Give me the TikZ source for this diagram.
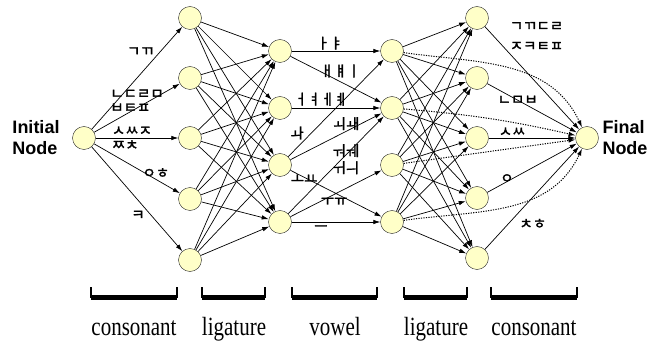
\documentclass[tikz,border=0pt]{standalone}
\usepackage{graphicx}
\usepackage{fontspec}
\setmainfont{Liberation Serif}
\newfontfamily\labelfont{Liberation Sans}
\newfontfamily\kr{Noto Sans CJK KR}[FakeBold=1.8]
\usetikzlibrary{arrows.meta, positioning}
\definecolor{nodefill}{RGB}{255,255,200}
\tikzset{%
  state/.style={draw=black!85, circle, minimum size=23pt, inner sep=0pt, fill=nodefill},
  link/.style={line width=0.7pt},
  move/.style={link, -{Latex[length=7pt,width=4.5pt]}},
  hint/.style={move, line width=1pt, dash pattern=on 1.2pt off 1.3pt},
  jamo/.style={font=\kr\fontsize{14.5}{14}\selectfont, inner sep=1pt},
  term/.style={font=\labelfont\bfseries\fontsize{18}{21}\selectfont, align=left},
  part/.style={font=\fontsize{21}{24}\selectfont, inner sep=0pt},
  bracket/.style={line width=1.5pt},
  bar/.style={line width=4.5pt}
}

\begin{document}
\begin{tikzpicture}[x=1pt, y=-1pt, on grid]
  \useasboundingbox (0,0) rectangle (651,342);

  \node[state] (init) at (84,138) {};
  \node[term] (initlabel) [left=48pt of init] {Initial\\Node};

  \node[state] (c13) [right=106pt of init] {};
  \node[state] (c12) [above=60pt of c13] {};
  \node[state] (c11) [above=60pt of c12] {};
  \node[state] (c14) [below=61pt of c13] {};
  \node[state] (c15) [below=61pt of c14] {};

  \node[state] (c22) [above right=30pt and 90pt of c13] {};
  \node[state] (c21) [above=57pt of c22] {};
  \node[state] (c23) [below=57pt of c22] {};
  \node[state] (c24) [below=57pt of c23] {};

  \node[state] (c31) [right=112pt of c21] {};
  \node[state] (c32) [right=112pt of c22] {};
  \node[state] (c33) [right=112pt of c23] {};
  \node[state] (c34) [right=112pt of c24] {};

  \node[state] (final) [right=503pt of init] {};
  \node[term] (finallabel) [right=38pt of final] {Final\\Node};

  \node[state] (c43) [left=110pt of final] {};
  \node[state] (c42) [above=60pt of c43] {};
  \node[state] (c41) [above=60pt of c42] {};
  \node[state] (c44) [below=60pt of c43] {};
  \node[state] (c45) [below=60pt of c44] {};

  % consonant
  \draw[move] (init) -- node[jamo, pos=0.7, above left] {ㄱㄲ} (c11);
  \draw[move] (init) -- node[jamo, pos=0.5, above=-6pt, align=left] {ㄴㄷㄹㅁ\\[0pt]ㅂㅌㅍ} (c12);
  \draw[move] (init) -- node[jamo, pos=0.18, anchor=south west, yshift=1pt] {ㅅㅆㅈ} node[jamo, pos=0.18, anchor=north west, yshift=-1pt] {ㅉㅊ} (c13);
  \draw[move] (init) -- node[jamo, pos=0.72, above] {ㅇㅎ} (c14);
  \draw[move] (init) -- node[jamo, pos=0.6, below left] {ㅋ} (c15);

  % ligature
  \draw (c11) edge[move] (c21) edge[move] (c22) edge[move] (c23) edge[move] (c24);
  \draw (c12) edge[move] (c21) edge[move] (c22) edge[move] (c23) edge[move] (c24);
  \draw (c13) edge[move] (c21) edge[move] (c22) edge[move] (c23) edge[move] (c24);
  \draw (c14) edge[move] (c21) edge[move] (c22) edge[move] (c23) edge[move] (c24);
  \draw (c15) edge[move] (c21) edge[move] (c22) edge[move] (c23) edge[move] (c24);

  % vowel
  \draw[move] (c21) -- node[jamo, pos=0.43, above] {ㅏㅑ} (c31);
  \draw[move] (c21) -- node[jamo, pos=0.55, above=3pt] {ㅐㅒㅣ} (c32);
  \draw[move] (c22) -- node[jamo, pos=0.33, above=1pt] {ㅓㅕㅔㅖ} (c32);
  \draw[move] (c23) -- node[jamo, pos=0.17, above left=-1pt] {ㅘ} (c31);
  \draw[move] (c23) -- node[jamo, pos=0.61, above] {ㅚㅙ} (c32);
  \draw[move] (c24) -- node[jamo, pos=0.56, xshift=4pt, align=left] {ㅝㅞ\\[3pt]ㅟㅢ} (c32);
  \draw[move] (c24) -- node[jamo, pos=0.48, below=2pt] {ㅜㅠ} (c33);
  \draw[move] (c23) -- node[jamo, pos=0.15, below=-4pt] {ㅗㅛ} (c34);
  \draw[move] (c24) -- node[jamo, pos=0.33, below=2pt] {ㅡ} (c34);

  % ligature
  \draw (c31) edge[move] (c41) edge[move] (c42) edge[move] (c43) edge[move] (c44) edge[move] (c45);
  \draw (c32) edge[move] (c41) edge[move] (c42) edge[move] (c43) edge[move] (c44) edge[move] (c45);
  \draw (c33) edge[move] (c41) edge[move] (c42) edge[move] (c43) edge[move] (c44) edge[move] (c45);
  \draw (c34) edge[move] (c41) edge[move] (c42) edge[move] (c43) edge[move] (c44) edge[move] (c45);

  \draw[hint] (c31) to[out=-8, in=115] (final);
  \draw[hint] (c32) to[bend left=4] (final);
  \draw[hint] (c33) -- (final);
  \draw[hint] (c34) to[out=8, in=-115] (final);

  % consonant
  \draw[move] (c41) -- node[jamo, pos=0.25, above right, align=left] {ㄱㄲㄷㄹ\\[6pt]ㅈㅋㅌㅍ} (final);
  \draw[move] (c42) -- node[jamo, pos=0.34] {ㄴㅁㅂ} (final);
  \draw[move] (c43) -- node[jamo, pos=0.27, above] {ㅅㅆ} (final);
  \draw[move] (c44) -- node[jamo, pos=0.22, above=-3pt] {ㅇ} (final);
  \draw[move] (c45) -- node[jamo, pos=0.33, below right=3pt] {ㅊㅎ} (final);

  % parts
  \draw[bracket] (91,287) |- (177,297.5) -- (177,287);
  \draw[bar] (91,297.5) -- (177,297.5);
  \draw[bracket] (202,287) |- (265,297.5) -- (265,287);
  \draw[bar] (202,297.5) -- (265,297.5);
  \draw[bracket] (292,287) |- (377,297.5) -- (377,287);
  \draw[bar] (292,297.5) -- (377,297.5);
  \draw[bracket] (404,287) |- (467,297.5) -- (467,287);
  \draw[bar] (404,297.5) -- (467,297.5);
  \draw[bracket] (491,287) |- (577,297.5) -- (577,287);
  \draw[bar] (491,297.5) -- (577,297.5);

  \node[part, anchor=base] (cons1) at (134,335) {\scalebox{1}[1.25]{consonant}};
  \node[part, anchor=base] (lig1) at (234,335) {\scalebox{1}[1.25]{ligature}};
  \node[part, anchor=base] (vowel) at (335,335) {\scalebox{1}[1.25]{vowel}};
  \node[part, anchor=base] (lig2) at (436,335) {\scalebox{1}[1.25]{ligature}};
  \node[part, anchor=base] (cons2) at (534,335) {\scalebox{1}[1.25]{consonant}};
\end{tikzpicture}
\end{document}
